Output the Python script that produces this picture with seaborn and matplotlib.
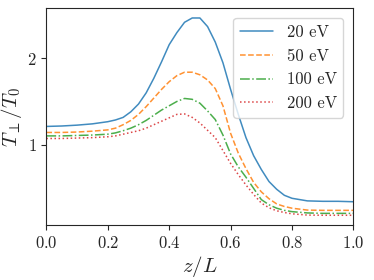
import numpy as np
import pandas as pd
import seaborn as sns
import matplotlib
matplotlib.use("Agg")
import matplotlib.pyplot as plt

# values
z = [0.0, 0.05, 0.1, 0.15, 0.2, 0.225, 0.25, 0.275, 0.3, 0.325, 0.35, 0.375,
     0.4, 0.425, 0.45, 0.475, 0.5, 0.525, 0.55, 0.575, 0.6, 0.625, 0.65,
     0.675, 0.7, 0.725, 0.75, 0.775, 0.8, 0.85, 0.9, 0.95, 1.0]

t_20 = [1.21, 1.215, 1.225, 1.24, 1.265, 1.285, 1.315, 1.38, 1.47, 1.60,
        1.77, 1.96, 2.16, 2.30, 2.42, 2.47, 2.47, 2.37, 2.19, 1.95, 1.64,
        1.35, 1.08, 0.87, 0.71, 0.57, 0.48, 0.41, 0.375, 0.345, 0.34, 0.34,
        0.335]
t_50 = [1.14, 1.14, 1.145, 1.155, 1.17, 1.19, 1.23, 1.28, 1.35, 1.44, 1.54,
        1.64, 1.73, 1.80, 1.84, 1.84, 1.81, 1.75, 1.65, 1.45, 1.13, 0.90,
        0.72, 0.56, 0.45, 0.37, 0.31, 0.28, 0.26, 0.238, 0.235, 0.235, 0.235]
t_100 = [1.10, 1.10, 1.105, 1.11, 1.12, 1.135, 1.16, 1.19, 1.23, 1.28, 1.34,
         1.40, 1.45, 1.50, 1.535, 1.525, 1.48, 1.39, 1.29, 1.11, 0.89, 0.74,
         0.62, 0.49, 0.36, 0.30, 0.26, 0.235, 0.22, 0.205, 0.20, 0.20, 0.20]
t_200 = [1.07, 1.07, 1.075, 1.08, 1.09, 1.10, 1.12, 1.14, 1.16, 1.19, 1.23,
         1.27, 1.31, 1.35, 1.355, 1.315, 1.25, 1.165, 1.08, 0.93, 0.78, 0.65,
         0.53, 0.42, 0.32, 0.265, 0.23, 0.21, 0.195, 0.18, 0.178, 0.178, 0.178]

labels = ["20 eV", "50 eV", "100 eV", "200 eV"]
series = [t_20, t_50, t_100, t_200]
colors = ["#1f77b4", "#ff7f0e", "#2ca02c", "#d62728"]
styles = ["-", "--", "-.", ":"]

sns.set_style("ticks")
plt.rcParams.update({
    "font.family": "serif",
    "font.serif": ["cmr10"],
    "mathtext.fontset": "cm",
    "axes.formatter.use_mathtext": True,
    "axes.edgecolor": ".15",
})

fig, ax = plt.subplots(figsize=(3.74, 2.8), dpi=100)
fig.subplots_adjust(left=0.124, right=0.945, bottom=0.196, top=0.971)

for lab, vals, c, ls in zip(labels, series, colors, styles):
    sns.lineplot(x=z, y=vals, ax=ax, color=c, linestyle=ls, linewidth=1.1,
                 alpha=0.85, label=lab)

ax.set_xlim(0, 1)
ax.set_xticks([0.0, 0.2, 0.4, 0.6, 0.8, 1.0])
ax.set_yticks([1, 2])
ax.tick_params(labelsize=12, length=3.5, width=0.8)
ax.set_xlabel(r"$z/L$", fontsize=15, labelpad=2)
ax.set_ylabel(r"$T_\perp/T_0$", fontsize=15, labelpad=2)
ax.legend(loc="upper right", fontsize=12, frameon=True, borderaxespad=0.6)

plt.savefig("out.png", dpi=100)
